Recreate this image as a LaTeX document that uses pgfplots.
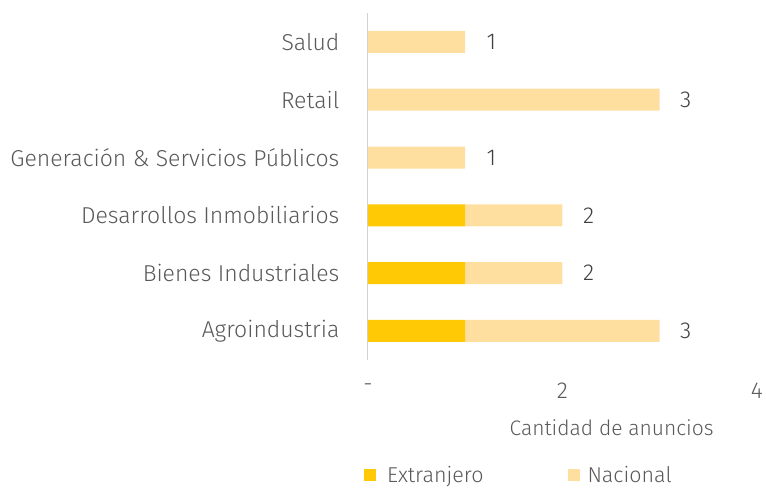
\documentclass[border=0pt]{standalone}
\usepackage{fontspec}
\setmainfont{Fira Sans}[UprightFont={* Light}]
\usepackage{pgfplots}
\pgfplotsset{compat=1.18}
\definecolor{cext}{HTML}{FFCA05}
\definecolor{cnac}{HTML}{FFDFA0}
\definecolor{ctxt}{HTML}{595959}
\definecolor{cval}{HTML}{404040}
\begin{document}
\begin{tikzpicture}
\begin{axis}[
  at={(0,0)}, anchor=south west,
  scale only axis, width=389pt, height=347pt,
  xbar stacked, bar width=22pt,
  xmin=0, xmax=4, ymin=-0.5, ymax=5.5,
  xtick={0,2,4}, xticklabels={-,2,4},
  ytick={0,...,5},
  yticklabels={Agroindustria,Bienes Industriales,Desarrollos Inmobiliarios,Generación \& Servicios Públicos,Retail,Salud},
  axis x line*=bottom,
  x axis line style={draw=none},
  axis y line*=left,
  y axis line style={draw=black!18, line width=1.2pt},
  major tick length=0pt,
  xtick style={draw=none}, ytick style={draw=none},
  ticklabel style={/pgf/number format/assume math mode=true},
  xticklabel style={font=\fontsize{23}{26}\selectfont, text=ctxt, yshift=-20pt},
  yticklabel style={font=\fontsize{23}{26}\selectfont, text=ctxt, xshift=-25pt},
  xlabel={Cantidad de anuncios},
  xlabel style={font=\fontsize{21}{24}\selectfont, text=ctxt, at={(rel axis cs:0.627,-0.196)}, anchor=center},
  legend style={draw=none, fill=none, at={(rel axis cs:-0.018,-0.331)}, anchor=west,
    legend columns=2, font=\fontsize{21.5}{24}\selectfont, text=ctxt,
    /tikz/every even column/.append style={column sep=82pt},
    nodes={inner xsep=2pt}},
  legend image code/.code={\fill[#1] (0pt,-6pt) rectangle (12pt,6pt);},
  clip=false,
]
\addplot[fill=cext, draw=none] coordinates {(1,0) (1,1) (1,2) (0,3) (0,4) (0,5)};
\addlegendentry{\hspace{9pt}Extranjero}
\addplot[fill=cnac, draw=none] coordinates {(2,0) (1,1) (1,2) (1,3) (3,4) (1,5)};
\addlegendentry{\hspace{6pt}Nacional}
\foreach \t/\c in {3/0,2/1,2/2,1/3,3/4,1/5}{
  \edef\tmp{\noexpand\node[font=\noexpand\fontsize{23}{26}\noexpand\selectfont, text=cval, anchor=center] at (axis cs:\t.27,\c) {\t};}
  \tmp
}
\end{axis}
\useasboundingbox (-368pt,-127pt) rectangle (398pt,360pt);
\end{tikzpicture}
\end{document}
